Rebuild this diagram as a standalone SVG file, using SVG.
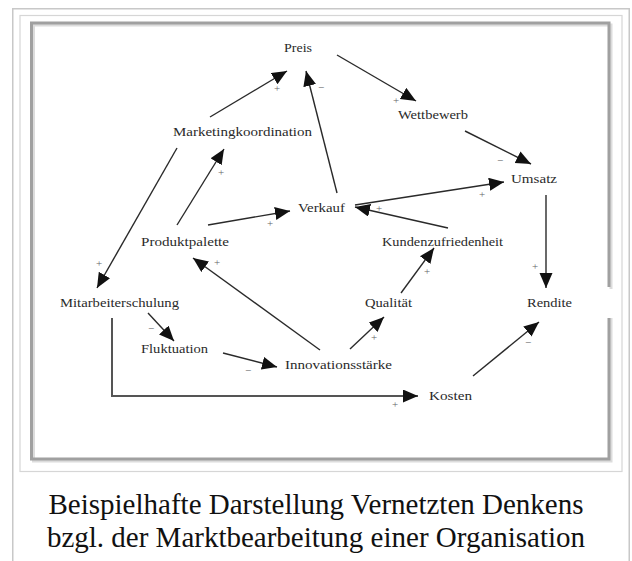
<svg xmlns="http://www.w3.org/2000/svg" width="632" height="561" viewBox="0 0 632 561">
<style>
.frame1{fill:none;stroke:#c8c8c8;stroke-width:1.5}
.frame2{fill:none;stroke:#d6d6d6;stroke-width:1.2}
.box{fill:none;stroke:#a0a0a0;stroke-width:3}
.boxsh{fill:none;stroke:#dcdcdc;stroke-width:3}
.node{font-family:"Liberation Serif",serif;font-size:13px;fill:#2a2a2a;text-anchor:middle}
.sign{font-family:"Liberation Serif",serif;font-size:11px;fill:#666;text-anchor:middle}
.edge{fill:none;stroke:#2a2a2a;stroke-width:1.4}
.edge2{fill:none;stroke:#555;stroke-width:2}
.cap{font-family:"Liberation Serif",serif;font-size:29px;fill:#111;text-anchor:middle}
</style>
<defs>
<marker id="ah" markerUnits="userSpaceOnUse" markerWidth="16" markerHeight="14" refX="15" refY="6.5" orient="auto">
<path d="M0,0 L15,6.5 L0,13 z" fill="#111"/>
</marker>
</defs>
<rect x="0" y="0" width="632" height="561" fill="#fff"/>
<g id="frame">
<path class="frame1" d="M12.75,570 V8.75 H629.25 V570"/>
<rect class="frame2" x="20" y="15.5" width="602" height="456"/>
<path class="boxsh" d="M611,289 V25 H33.5 V461 H611 V318"/>
<path class="box" d="M609,287 V23 H31.5 V459 H609 V318"/>
</g>
<g id="connectors">
<line class="edge" x1="210" y1="117" x2="287" y2="71" marker-end="url(#ah)"/>
<line class="edge" x1="337" y1="193" x2="306" y2="71" marker-end="url(#ah)"/>
<line class="edge" x1="337" y1="55" x2="416" y2="101" marker-end="url(#ah)"/>
<line class="edge" x1="465" y1="131" x2="531" y2="164" marker-end="url(#ah)"/>
<line class="edge" x1="355" y1="205" x2="504" y2="182" marker-end="url(#ah)"/>
<line class="edge" x1="448" y1="228" x2="355" y2="207" marker-end="url(#ah)"/>
<line class="edge" x1="208" y1="225" x2="290" y2="211" marker-end="url(#ah)"/>
<line class="edge" x1="177" y1="225" x2="224" y2="149" marker-end="url(#ah)"/>
<line class="edge" x1="177" y1="148" x2="97" y2="288" marker-end="url(#ah)"/>
<line class="edge" x1="148" y1="313" x2="174" y2="341" marker-end="url(#ah)"/>
<line class="edge" x1="223" y1="353" x2="277" y2="367" marker-end="url(#ah)"/>
<line class="edge" x1="320" y1="350" x2="193" y2="258" marker-end="url(#ah)"/>
<polyline class="edge2" points="112,318 112,396 418,396" marker-end="url(#ah)"/>
<line class="edge" x1="473" y1="376" x2="539" y2="322" marker-end="url(#ah)"/>
<line class="edge" x1="350" y1="349" x2="384" y2="317" marker-end="url(#ah)"/>
<line class="edge" x1="401" y1="293" x2="434" y2="248" marker-end="url(#ah)"/>
<line class="edge" x1="546" y1="195" x2="546" y2="288" marker-end="url(#ah)"/>
<g id="signs">
<text class="sign" x="277" y="92">+</text>
<text class="sign" x="321" y="91">−</text>
<text class="sign" x="396" y="104">+</text>
<text class="sign" x="500" y="164">−</text>
<text class="sign" x="482" y="198">+</text>
<text class="sign" x="379" y="212">+</text>
<text class="sign" x="270" y="227">+</text>
<text class="sign" x="221" y="176">+</text>
<text class="sign" x="99" y="267">+</text>
<text class="sign" x="151" y="332">−</text>
<text class="sign" x="248" y="374">−</text>
<text class="sign" x="217" y="266">+</text>
<text class="sign" x="395" y="408">+</text>
<text class="sign" x="528" y="346">−</text>
<text class="sign" x="374" y="341">+</text>
<text class="sign" x="427" y="275">+</text>
<text class="sign" x="535" y="270">+</text>
</g>
</g>
<g id="n-preis"><text class="node" x="298" y="52" textLength="28" lengthAdjust="spacingAndGlyphs">Preis</text></g>
<g id="n-wettbewerb"><text class="node" x="433" y="119" textLength="70" lengthAdjust="spacingAndGlyphs">Wettbewerb</text></g>
<g id="n-marketingkoordination"><text class="node" x="242.5" y="136" textLength="139" lengthAdjust="spacingAndGlyphs">Marketingkoordination</text></g>
<g id="n-umsatz"><text class="node" x="534" y="183" textLength="46" lengthAdjust="spacingAndGlyphs">Umsatz</text></g>
<g id="n-verkauf"><text class="node" x="321.5" y="212" textLength="47" lengthAdjust="spacingAndGlyphs">Verkauf</text></g>
<g id="n-produktpalette"><text class="node" x="185" y="246" textLength="88" lengthAdjust="spacingAndGlyphs">Produktpalette</text></g>
<g id="n-kundenzufriedenheit"><text class="node" x="442.5" y="246" textLength="121" lengthAdjust="spacingAndGlyphs">Kundenzufriedenheit</text></g>
<g id="n-mitarbeiterschulung"><text class="node" x="119.5" y="307" textLength="119" lengthAdjust="spacingAndGlyphs">Mitarbeiterschulung</text></g>
<g id="n-qualitaet"><text class="node" x="388.5" y="307" textLength="47" lengthAdjust="spacingAndGlyphs">Qualität</text></g>
<g id="n-rendite"><text class="node" x="549.5" y="307" textLength="45" lengthAdjust="spacingAndGlyphs">Rendite</text></g>
<g id="n-fluktuation"><text class="node" x="174.5" y="353" textLength="67" lengthAdjust="spacingAndGlyphs">Fluktuation</text></g>
<g id="n-innovationsstaerke"><text class="node" x="338.5" y="369" textLength="107" lengthAdjust="spacingAndGlyphs">Innovationsstärke</text></g>
<g id="n-kosten"><text class="node" x="450.5" y="400" textLength="43" lengthAdjust="spacingAndGlyphs">Kosten</text></g>
<g id="caption">
<text class="cap" x="316" y="514">Beispielhafte Darstellung Vernetzten Denkens</text>
<text class="cap" x="316" y="547">bzgl. der Marktbearbeitung einer Organisation</text>
</g>
</svg>
